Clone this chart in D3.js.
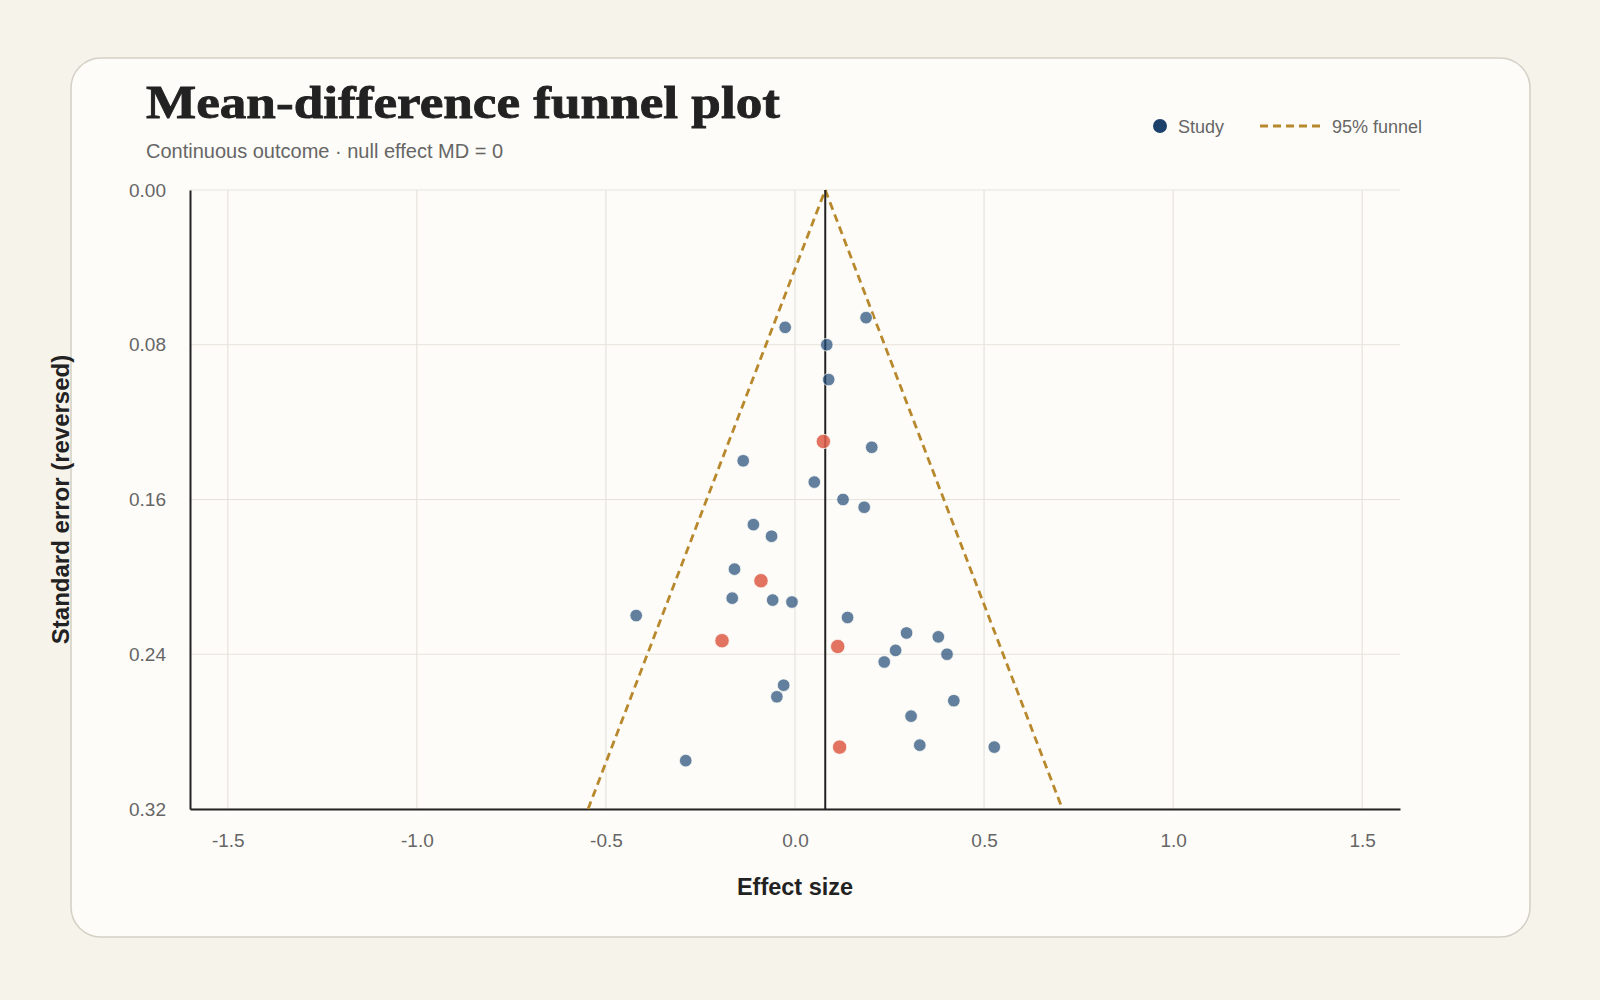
<!DOCTYPE html>
<html>
<head>
<meta charset="utf-8">
<script src="https://cdn.jsdelivr.net/npm/d3@7"></script>
<style>
  html, body { margin: 0; padding: 0; background: #f6f3eb; }
  svg { display: block; }
</style>
</head>
<body>
<svg id="chart" width="1600" height="1000"></svg>
<script>
// ---- data ----
const effect = [-0.026, 0.188, 0.084, 0.089, 0.075, 0.203, -0.137, 0.051, 0.127, 0.183,
                -0.110, -0.062, -0.160, -0.090, -0.166, -0.059, -0.008, -0.420, 0.139, -0.193,
                0.295, 0.379, 0.113, 0.266, 0.402, 0.236, -0.030, -0.048, 0.420, 0.307,
                -0.289, 0.118, 0.330, 0.527];
const stdErr = [0.071, 0.066, 0.080, 0.098, 0.130, 0.133, 0.140, 0.151, 0.160, 0.164,
                0.173, 0.179, 0.196, 0.202, 0.211, 0.212, 0.213, 0.220, 0.221, 0.233,
                0.229, 0.231, 0.236, 0.238, 0.240, 0.244, 0.256, 0.262, 0.264, 0.272,
                0.295, 0.288, 0.287, 0.288];
const flagged = [0,0,0,0,1,0,0,0,0,0, 0,0,0,1,0,0,0,0,0,1, 0,0,1,0,0,0,0,0,0,0, 0,1,0,0];
const pooledMD = 0.08;
const xTicks = [-1.5, -1.0, -0.5, 0.0, 0.5, 1.0, 1.5];
const yTicks = [0.00, 0.08, 0.16, 0.24, 0.32];
const xDomain = [-1.6, 1.6];
const yDomain = [0, 0.32];
const z = 1.96;

const studies = effect.map((e, i) => ({ md: e, se: stdErr[i], flag: flagged[i] }));

// ---- layout ----
const svg = d3.select("#chart");
const L = 190, R = 1400, T = 190, B = 809;
const sans = "'Liberation Sans', Arial, Helvetica, sans-serif";
const serif = "'Liberation Serif', 'Times New Roman', serif";
const hyphenFmt = f => d => d3.format(f)(d).replace("\u2212", "-");

svg.append("rect").attr("width", 1600).attr("height", 1000).attr("fill", "#f6f3eb");
svg.append("rect")
  .attr("x", 71).attr("y", 58).attr("width", 1459).attr("height", 879)
  .attr("rx", 30).attr("ry", 30)
  .attr("fill", "#fdfcf8").attr("stroke", "#d5d1c6").attr("stroke-width", 1.6);

// title
svg.append("text").attr("x", 146).attr("y", 118)
  .attr("font-family", serif).attr("font-weight", 700).attr("font-size", 46)
  .attr("textLength", 634).attr("lengthAdjust", "spacingAndGlyphs")
  .attr("stroke", "#222").attr("stroke-width", 0.8)
  .attr("fill", "#222").text("Mean-difference funnel plot");
svg.append("text").attr("x", 146).attr("y", 158)
  .attr("font-family", sans).attr("font-size", 20)
  .attr("fill", "#666").text("Continuous outcome · null effect MD = 0");

// scales
const x = d3.scaleLinear().domain(xDomain).range([L, R]);
const y = d3.scaleLinear().domain(yDomain).range([T, B]);

// gridlines
const grid = svg.append("g");
grid.selectAll("line.v").data(xTicks).join("line")
  .attr("x1", d => x(d)).attr("x2", d => x(d)).attr("y1", T).attr("y2", B)
  .attr("stroke", "#e6e3dc").attr("stroke-width", 1.2);
grid.selectAll("line.h").data(yTicks).join("line")
  .attr("x1", L).attr("x2", R).attr("y1", d => y(d)).attr("y2", d => y(d))
  .attr("stroke", "#e6e3dc").attr("stroke-width", 1.2);

// axes
const xAxis = svg.append("g").attr("transform", `translate(0,${B})`)
  .call(d3.axisBottom(x).tickValues(xTicks).tickFormat(hyphenFmt(".1f")).tickSize(0).tickPadding(25));
const yAxis = svg.append("g").attr("transform", `translate(${L},0)`)
  .call(d3.axisLeft(y).tickValues(yTicks).tickFormat(hyphenFmt(".2f")).tickSize(0).tickPadding(24));
[xAxis, yAxis].forEach(g => {
  g.select(".domain").attr("stroke", "#222").attr("stroke-width", 2);
  g.selectAll("text").attr("font-family", sans).attr("font-size", 19).attr("fill", "#666");
});

// funnel
const funnelSE = [yDomain[1], 0, yDomain[1]];
const funnelSide = [-1, 0, 1];
const funnelPts = funnelSE.map((s, i) => [pooledMD + funnelSide[i] * z * s, s]);
svg.append("path")
  .attr("d", d3.line().x(d => x(d[0])).y(d => y(d[1]))(funnelPts))
  .attr("fill", "none").attr("stroke", "#b8882c").attr("stroke-width", 2.8)
  .attr("stroke-dasharray", "8,5");

// pooled line
svg.append("line")
  .attr("x1", x(pooledMD)).attr("x2", x(pooledMD)).attr("y1", y(0)).attr("y2", y(yDomain[1]))
  .attr("stroke", "#222").attr("stroke-width", 2);

// points
svg.append("g").selectAll("circle").data(studies).join("circle")
  .attr("cx", d => x(d.md)).attr("cy", d => y(d.se))
  .attr("r", d => d.flag ? 7.2 : 6.3)
  .attr("fill", d => d.flag ? "#de5a47" : "#1f4a78")
  .attr("fill-opacity", d => d.flag ? 0.85 : 0.7)
  .attr("stroke", "#fdfcf8").attr("stroke-width", 0.8);

// axis titles
svg.append("text").attr("x", (L + R) / 2).attr("y", 895).attr("text-anchor", "middle")
  .attr("font-family", sans).attr("font-weight", 700).attr("font-size", 23.5)
  .attr("fill", "#222").text("Effect size");
svg.append("text").attr("transform", `translate(69,${(T + B) / 2}) rotate(-90)`)
  .attr("text-anchor", "middle")
  .attr("font-family", sans).attr("font-weight", 700).attr("font-size", 24)
  .attr("fill", "#222").text("Standard error (reversed)");

// legend
const lg = svg.append("g");
lg.append("circle").attr("cx", 1160).attr("cy", 126).attr("r", 7).attr("fill", "#1c416b");
lg.append("text").attr("x", 1178).attr("y", 132.5)
  .attr("font-family", sans).attr("font-size", 18).attr("fill", "#666").text("Study");
lg.append("line").attr("x1", 1260).attr("x2", 1322).attr("y1", 126).attr("y2", 126)
  .attr("stroke", "#b8882c").attr("stroke-width", 2.8).attr("stroke-dasharray", "8,5");
lg.append("text").attr("x", 1332).attr("y", 132.5)
  .attr("font-family", sans).attr("font-size", 18).attr("fill", "#666").text("95% funnel");
</script>
</body>
</html>
